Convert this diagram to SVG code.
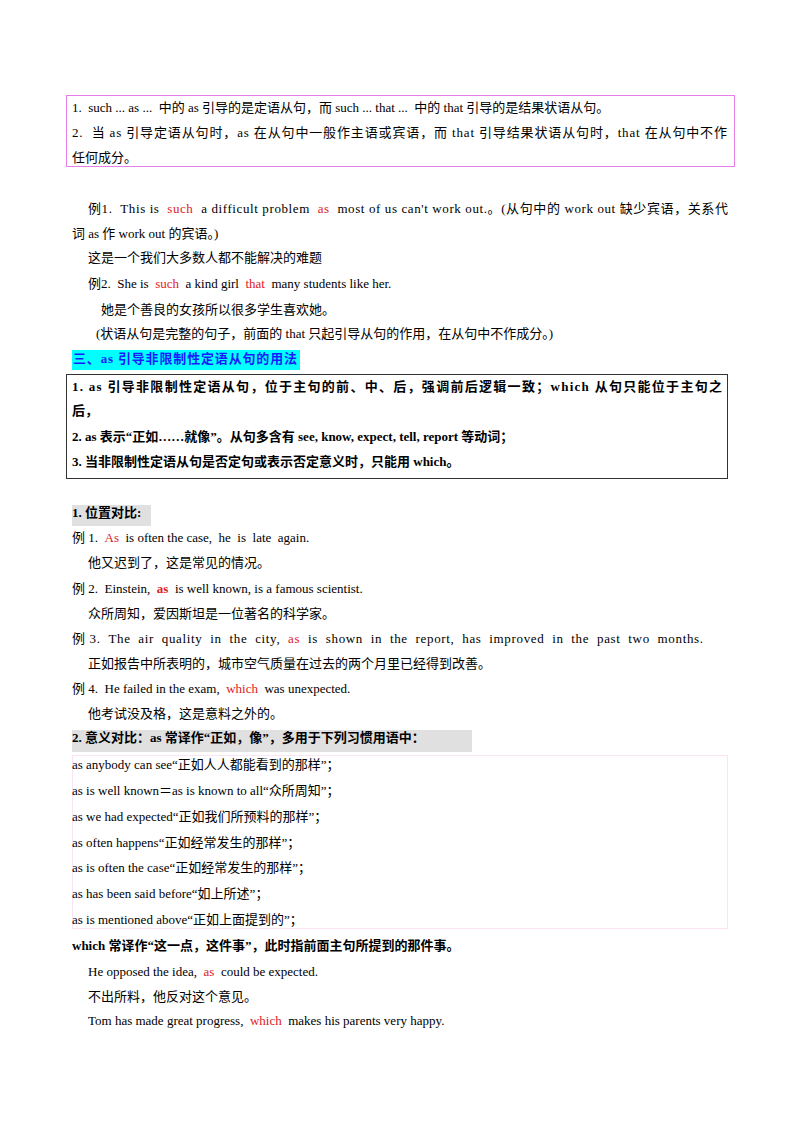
<svg xmlns="http://www.w3.org/2000/svg" width="800" height="1132" viewBox="0 0 800 1132">
<style>
text{font-family:"Liberation Serif","Noto Sans CJK SC",serif;font-size:13px;fill:#000;white-space:pre}
.b{font-weight:bold}
.r{fill:#e0201c}
</style>
<rect width="800" height="1132" fill="#fff"/>
<g id="box1">
<rect x="66.5" y="95.5" width="668" height="71" fill="none" stroke="#e87ee8" stroke-width="1"/>
<text x="72" y="112" xml:space="preserve">1.  such ... as ...  中的 as 引导的是定语从句，而 such ... that ...  中的 that 引导的是结果状语从句。</text>
<text x="72" y="137" textLength="655" lengthAdjust="spacing" xml:space="preserve">2.  当 as 引导定语从句时，as 在从句中一般作主语或宾语，而 that 引导结果状语从句时，that 在从句中不作</text>
<text x="72" y="162">任何成分。</text>
</g>
<g id="ex">
<text x="88" y="213" textLength="640" lengthAdjust="spacing" xml:space="preserve">例1.  This is  <tspan class="r">such</tspan>  a difficult problem  <tspan class="r">as</tspan>  most of us can't work out.。(从句中的 work out 缺少宾语，关系代</text>
<text x="72" y="238">词 as 作 work out 的宾语。)</text>
<text x="88" y="262">这是一个我们大多数人都不能解决的难题</text>
<text x="88" y="288" xml:space="preserve">例2.  She is  <tspan class="r">such</tspan>  a kind girl  <tspan class="r">that</tspan>  many students like her.</text>
<text x="101" y="314">她是个善良的女孩所以很多学生喜欢她。</text>
<text x="96" y="338">(状语从句是完整的句子，前面的 that 只起引导从句的作用，在从句中不作成分。)</text>
</g>
<g id="heading">
<rect x="72" y="350" width="228" height="20" fill="#00ffff"/>
<text x="73" y="363" class="b" style="fill:#1a1aff" textLength="224" lengthAdjust="spacing">三、as 引导非限制性定语从句的用法</text>
</g>
<g id="box2">
<rect x="66.5" y="374.5" width="661" height="104" fill="none" stroke="#333" stroke-width="1"/>
<text x="72" y="391" class="b" textLength="650" lengthAdjust="spacing">1. as 引导非限制性定语从句，位于主句的前、中、后，强调前后逻辑一致；which 从句只能位于主句之</text>
<text x="72" y="415" class="b">后，</text>
<text x="72" y="441" class="b">2. as 表示“正如……就像”。从句多含有 see, know, expect, tell, report 等动词；</text>
<text x="72" y="466" class="b">3. 当非限制性定语从句是否定句或表示否定意义时，只能用 which。</text>
</g>
<g id="pos">
<rect x="72" y="505" width="79" height="21" fill="#e0e0e0"/>
<text x="72" y="517" class="b">1. 位置对比:</text>
<text x="72" y="542" xml:space="preserve">例 1.  <tspan class="r">As</tspan>  is often the case,  he  is  late  again.</text>
<text x="88" y="567">他又迟到了，这是常见的情况。</text>
<text x="72" y="593" xml:space="preserve">例 2.  Einstein,  <tspan class="r b">as</tspan>  is well known, is a famous scientist.</text>
<text x="88" y="618">众所周知，爱因斯坦是一位著名的科学家。</text>
<text x="72" y="643" textLength="631" lengthAdjust="spacing" xml:space="preserve">例 3.  The  air  quality  in  the  city,  <tspan class="r">as</tspan>  is  shown  in  the  report,  has  improved  in  the  past  two  months.</text>
<text x="88" y="668">正如报告中所表明的，城市空气质量在过去的两个月里已经得到改善。</text>
<text x="72" y="693" xml:space="preserve">例 4.  He failed in the exam,  <tspan class="r">which</tspan>  was unexpected.</text>
<text x="88" y="718">他考试没及格，这是意料之外的。</text>
</g>
<g id="meaning">
<rect x="72" y="730" width="400" height="22" fill="#e0e0e0"/>
<text x="72" y="742" class="b">2. 意义对比：as 常译作“正如，像”，多用于下列习惯用语中：</text>
<rect x="72.5" y="755.5" width="655" height="173" fill="none" stroke="#f5c8e8" stroke-width="1" stroke-dasharray="1,1"/>
<text x="72" y="769">as anybody can see“正如人人都能看到的那样”；</text>
<text x="72" y="795">as is well known＝as is known to all“众所周知”；</text>
<text x="72" y="821">as we had expected“正如我们所预料的那样”；</text>
<text x="72" y="847">as often happens“正如经常发生的那样”；</text>
<text x="72" y="872">as is often the case“正如经常发生的那样”；</text>
<text x="72" y="898">as has been said before“如上所述”；</text>
<text x="72" y="924">as is mentioned above“正如上面提到的”；</text>
<text x="72" y="950" class="b">which 常译作“这一点，这件事”，此时指前面主句所提到的那件事。</text>
<text x="88" y="976" xml:space="preserve">He opposed the idea,  <tspan class="r">as</tspan>  could be expected.</text>
<text x="88" y="1001">不出所料，他反对这个意见。</text>
<text x="88" y="1025" xml:space="preserve">Tom has made great progress,  <tspan class="r">which</tspan>  makes his parents very happy.</text>
</g>
</svg>
